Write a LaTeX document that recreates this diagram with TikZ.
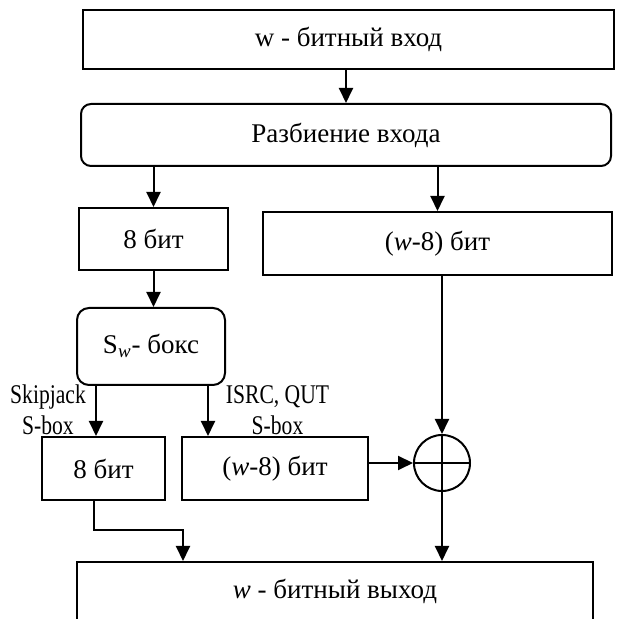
\documentclass[tikz,border=0pt]{standalone}
\usepackage{fontspec}
\setmainfont{Liberation Serif}
\newfontfamily\narrowfont{Liberation Serif}[FakeStretch=0.8]
\usetikzlibrary{arrows.meta}

\begin{document}
\begin{tikzpicture}[x=0.5pt, y=-0.5pt,
		every node/.style={font=\fontsize{13.5}{15}\selectfont},
		blk/.style={draw, line width=1pt, inner sep=0pt},
		rblk/.style={blk, rounded corners=5pt},
		arr/.style={-{Triangle[length=7.5pt,width=7pt]}, line width=1pt},
		lbl/.style={align=center, inner sep=0pt, font=\narrowfont\fontsize{13.5}{15.5}\selectfont}]

			\useasboundingbox (0,0) rectangle (623,619);

			% blocks
			\node[blk, minimum width=265.5pt, minimum height=29.5pt] (in) at (348.5,39.5)
				{w - битный вход};
			\node[rblk, minimum width=265pt, minimum height=31pt] (split) at (346,135)
				{Разбиение входа};
			\node[blk, minimum width=74.5pt, minimum height=31pt] (bits8) at (153.5,239)
				{8 бит};
			\node[blk, minimum width=174.5pt, minimum height=31.5pt] (bitsw) at (437.5,243.5)
				{(\textit{w}-8) бит};
			\node[rblk, rounded corners=6pt, minimum width=74pt, minimum height=38.5pt] (sbox) at (151,346.5)
				{\raisebox{3pt}{S\textsubscript{\textit{w}}- бокс}};
			\node[blk, minimum width=61.5pt, minimum height=31.5pt] (bits8b) at (103.5,468.5)
				{8 бит};
			\node[blk, minimum width=93pt, minimum height=31.5pt] (bitswb) at (275,468.5)
				{(\textit{w}-8) бит};
			\node[blk, circle, minimum size=28pt] (xor) at (442,463) {};
			\node[blk, minimum width=258pt, minimum height=29.5pt] (out) at (335,591.5)
				{\textit{w} - битный выход};

			\draw[line width=1pt] (xor.north) -- (xor.south) (xor.west) -- (xor.east);

			% labels
			\node[lbl] (lblskip) at (48,410) {Skipjack\\S-box};
			\node[lbl] (lblisrc) at (277.5,410) {ISRC, QUT\\S-box};

			% arrows
			\draw[arr] (split.north |- in.south) -- (split.north);
			\draw[arr] (split.south -| bits8.north) -- (bits8.north);
			\draw[arr] (split.south -| bitsw.north) -- (bitsw.north);
			\draw[arr] (bits8.south) -- (bits8.south |- sbox.north);
			\draw[arr] ([xshift=-27.5pt]sbox.south) -- ([xshift=-27.5pt]sbox.south |- bits8b.north);
			\draw[arr] ([xshift=28.5pt]sbox.south) -- ([xshift=28.5pt]sbox.south |- bitswb.north);
			\draw[arr] (xor.north |- bitsw.south) -- (xor.north);
			\draw[arr] (bitswb.east |- xor.west) -- (xor.west);
			\draw[arr] (xor.south) -- (xor.south |- out.north);
			\draw[arr] ([xshift=-4.75pt]bits8b.south) -- ++(0,29) -| ([xshift=-76pt]out.north);
		\end{tikzpicture}
\end{document}
